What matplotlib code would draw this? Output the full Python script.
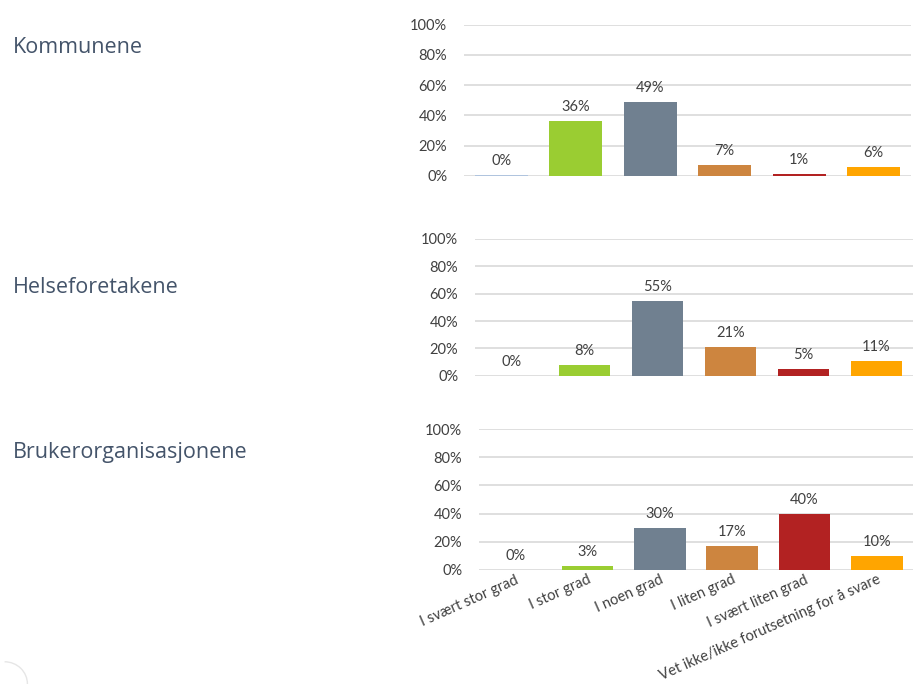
import matplotlib.pyplot as plt
from matplotlib.patches import Arc

# Data (percent)
categories = ['I svært stor grad', 'I stor grad', 'I noen grad', 'I liten grad',
              'I svært liten grad', 'Vet ikke/ikke forutsetning for å svare']
groups = ['Kommunene', 'Helseforetakene', 'Brukerorganisasjonene']
kommunene = [0.4, 36, 49, 7, 1, 6]
helseforetakene = [0, 8, 55, 21, 5, 11]
brukerorg = [0, 3, 30, 17, 40, 10]
yticks = [0, 20, 40, 60, 80, 100]

barColors = ['#B0C4DE', '#9ACD32', '#708090', '#CD853F', '#B22222', '#FFA500']
TEXT = '#404040'
TITLE = '#44546A'
GRID = '#D9D9D9'

# axes boxes in figure fraction [left, bottom, width, height]
boxes = [[0.5077, 0.7431, 0.4890, 0.2208],
         [0.5197, 0.4507, 0.4792, 0.1999],
         [0.5241, 0.1667, 0.4748, 0.2061]]
titleY = [0.931, 0.579, 0.338]

fig = plt.figure(figsize=(9.14, 6.84), dpi=100)
allValues = [kommunene, helseforetakene, brukerorg]

for i in range(3):
    ax = fig.add_axes(boxes[i])
    vals = allValues[i]
    x = range(len(vals))
    ax.bar(x, vals, width=0.71, color=barColors, zorder=3)
    for xi, v in zip(x, vals):
        ax.annotate(f'{round(v)}%', (xi, v), xytext=(0, 5), textcoords='offset points',
                    ha='center', va='bottom', fontsize=10.5, color=TEXT, family='Lato')
    ax.set_xlim(-0.5, 5.5)
    ax.set_ylim(0, 100)
    ax.set_yticks(yticks)
    ax.set_yticklabels([f'{t}%' for t in yticks], family='Lato', fontsize=10.5, color=TEXT)
    ax.yaxis.grid(True, color=GRID, linewidth=1.2, zorder=0)
    ax.set_axisbelow(True)
    for s in ax.spines.values():
        s.set_visible(False)
    ax.tick_params(axis='both', length=0, pad=12)
    if i == 2:
        ax.set_xticks(list(x))
        ax.set_xticklabels(categories, rotation=24, ha='right', va='top',
                           rotation_mode='anchor', family='Lato', fontsize=10.5, color=TEXT)
        ax.tick_params(axis='x', pad=2)
    else:
        ax.set_xticks([])
    fig.text(0.014, titleY[i], groups[i], fontsize=15.5, color=TITLE,
             family='Open Sans', va='center', ha='left')

# faint slide decoration bottom-left
deco = fig.add_axes([0, 0, 0.05, 0.05])
deco.axis('off')
deco.set_xlim(0, 1)
deco.set_ylim(0, 1)
deco.add_patch(Arc((0.1, 0.0), 1.0, 1.3, theta1=0, theta2=90, color='#E6E6E6', lw=1))

fig.savefig('out.png', dpi=100)
